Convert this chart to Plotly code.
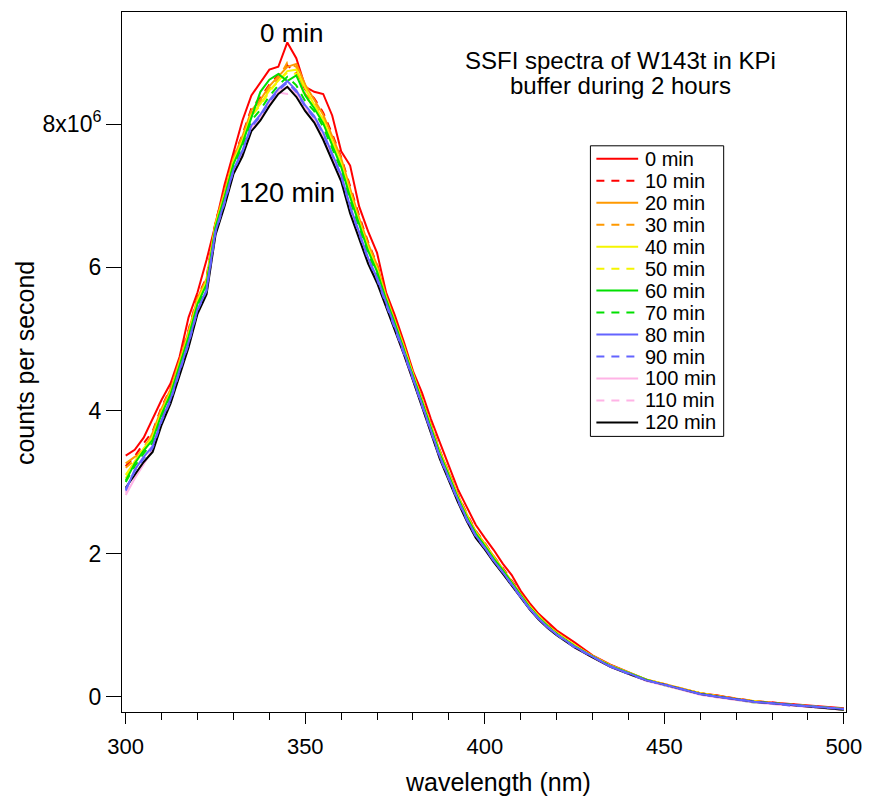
import plotly.graph_objects as go

# wavelength grid (nm)
wavelength = [300, 302.5, 305, 307.5, 310, 312.5, 315, 317.5, 320, 322.5, 325, 327.5, 330,
              332.5, 335, 337.5, 340, 342.5, 345, 347.5, 350, 352.5, 355, 357.5, 360, 362.5,
              365, 367.5, 370, 372.5, 375, 377.5, 380, 382.5, 385, 387.5, 390, 392.5, 395,
              397.5, 400, 402.5, 405, 407.5, 410, 412.5, 415, 417.5, 420,
              425, 430, 435, 440, 445, 450, 455, 460, 465, 470, 475, 480, 485, 490, 495, 500]

# counts per second, in units of 1e6
s000 = [3.37, 3.45, 3.62, 3.88, 4.15, 4.38, 4.75, 5.30, 5.65, 6.10, 6.60, 7.15, 7.62,
        8.05, 8.40, 8.58, 8.76, 8.80, 9.14, 8.92, 8.52, 8.45, 8.42, 8.12, 7.62, 7.42,
        6.85, 6.50, 6.20, 5.65, 5.32, 4.95, 4.55, 4.25, 3.88, 3.55, 3.22, 2.90, 2.65,
        2.40, 2.22, 2.05, 1.86, 1.70, 1.48, 1.31, 1.16, 1.04, 0.93,
        0.76, 0.58, 0.45, 0.34, 0.24, 0.17, 0.11, 0.05, 0.02, -0.03, -0.06, -0.08, -0.10, -0.13, -0.15, -0.16]
s010 = [3.22, 3.36, 3.54, 3.71, 4.05, 4.31, 4.71, 5.13, 5.59, 5.86, 6.64, 7.06, 7.54,
        7.85, 8.22, 8.37, 8.55, 8.68, 8.82, 8.72, 8.48, 8.36, 8.16, 7.86, 7.54, 7.13,
        6.72, 6.35, 6.04, 5.62, 5.27, 4.91, 4.53, 4.17, 3.80, 3.44, 3.13, 2.83, 2.56,
        2.32, 2.15, 1.96, 1.80, 1.62, 1.44, 1.27, 1.13, 1.01, 0.90,
        0.72, 0.57, 0.44, 0.33, 0.24, 0.17, 0.11, 0.05, 0.01, -0.03, -0.06, -0.08, -0.11, -0.13, -0.15, -0.17]
s020 = [3.26, 3.35, 3.42, 3.69, 4.03, 4.30, 4.70, 5.11, 5.57, 5.84, 6.63, 7.05, 7.52,
        7.83, 8.19, 8.34, 8.53, 8.67, 8.80, 8.84, 8.55, 8.34, 8.13, 7.83, 7.52, 7.10,
        6.69, 6.33, 6.03, 5.60, 5.26, 4.90, 4.52, 4.16, 3.79, 3.43, 3.13, 2.82, 2.55,
        2.31, 2.14, 1.96, 1.79, 1.61, 1.44, 1.27, 1.13, 1.00, 0.90,
        0.72, 0.57, 0.44, 0.34, 0.24, 0.18, 0.11, 0.05, 0.01, -0.03, -0.06, -0.09, -0.11, -0.13, -0.15, -0.17]
s030 = [3.20, 3.31, 3.49, 3.65, 4.00, 4.27, 4.67, 5.08, 5.54, 5.81, 6.60, 7.02, 7.49,
        7.79, 8.15, 8.30, 8.49, 8.63, 8.86, 8.80, 8.42, 8.29, 8.08, 7.78, 7.47, 7.05,
        6.65, 6.29, 5.99, 5.58, 5.24, 4.88, 4.50, 4.15, 3.78, 3.42, 3.11, 2.80, 2.53,
        2.30, 2.13, 1.95, 1.78, 1.60, 1.43, 1.26, 1.12, 1.00, 0.89,
        0.71, 0.57, 0.44, 0.33, 0.24, 0.18, 0.11, 0.05, 0.01, -0.03, -0.07, -0.09, -0.11, -0.13, -0.15, -0.17]
s040 = [3.10, 3.29, 3.47, 3.63, 3.98, 4.25, 4.65, 5.06, 5.53, 5.80, 6.59, 7.00, 7.48,
        7.77, 8.13, 8.28, 8.47, 8.61, 8.74, 8.76, 8.50, 8.27, 8.06, 7.76, 7.45, 7.03,
        6.63, 6.27, 5.97, 5.57, 5.23, 4.87, 4.50, 4.14, 3.77, 3.41, 3.10, 2.80, 2.53,
        2.29, 2.13, 1.94, 1.78, 1.60, 1.42, 1.26, 1.12, 0.99, 0.89,
        0.72, 0.56, 0.44, 0.34, 0.24, 0.17, 0.11, 0.05, 0.01, -0.04, -0.06, -0.09, -0.11, -0.13, -0.15, -0.18]
s050 = [3.05, 3.28, 3.46, 3.61, 3.97, 4.24, 4.64, 5.05, 5.51, 5.78, 6.58, 6.99, 7.46,
        7.75, 8.11, 8.26, 8.45, 8.60, 8.72, 8.70, 8.38, 8.25, 8.03, 7.73, 7.43, 7.00,
        6.61, 6.25, 5.96, 5.56, 5.22, 4.87, 4.49, 4.13, 3.76, 3.40, 3.10, 2.79, 2.52,
        2.29, 2.12, 1.94, 1.77, 1.60, 1.42, 1.26, 1.12, 0.99, 0.89,
        0.71, 0.57, 0.43, 0.33, 0.24, 0.18, 0.10, 0.05, 0.00, -0.03, -0.07, -0.09, -0.11, -0.13, -0.15, -0.17]
s060 = [3.02, 3.26, 3.44, 3.59, 3.95, 4.23, 4.63, 5.03, 5.49, 5.76, 6.56, 6.98, 7.44,
        7.73, 8.09, 8.45, 8.62, 8.70, 8.60, 8.68, 8.40, 8.22, 8.01, 7.71, 7.40, 6.98,
        6.59, 6.23, 5.94, 5.55, 5.21, 4.86, 4.48, 4.12, 3.75, 3.39, 3.09, 2.78, 2.51,
        2.28, 2.11, 1.93, 1.77, 1.59, 1.42, 1.25, 1.11, 0.99, 0.88,
        0.71, 0.56, 0.43, 0.33, 0.24, 0.16, 0.10, 0.04, 0.00, -0.04, -0.08, -0.09, -0.11, -0.13, -0.15, -0.17]
s070 = [3.00, 3.22, 3.40, 3.55, 3.92, 4.20, 4.60, 5.00, 5.46, 5.73, 6.54, 6.95, 7.41,
        7.69, 8.05, 8.20, 8.39, 8.54, 8.66, 8.54, 8.32, 8.18, 7.96, 7.66, 7.36, 6.93,
        6.55, 6.19, 5.90, 5.53, 5.19, 4.84, 4.47, 4.11, 3.74, 3.38, 3.07, 2.77, 2.50,
        2.27, 2.10, 1.92, 1.76, 1.58, 1.41, 1.24, 1.10, 0.98, 0.88,
        0.70, 0.56, 0.43, 0.32, 0.23, 0.17, 0.10, 0.04, 0.00, -0.04, -0.07, -0.09, -0.11, -0.14, -0.15, -0.18]
s080 = [2.88, 3.17, 3.35, 3.50, 3.87, 4.16, 4.56, 4.95, 5.41, 5.68, 6.50, 6.91, 7.36,
        7.63, 7.98, 8.13, 8.33, 8.49, 8.60, 8.47, 8.26, 8.11, 7.88, 7.58, 7.29, 6.85,
        6.48, 6.13, 5.85, 5.49, 5.16, 4.81, 4.45, 4.08, 3.71, 3.35, 3.05, 2.75, 2.48,
        2.25, 2.08, 1.90, 1.74, 1.57, 1.40, 1.23, 1.09, 0.97, 0.87,
        0.70, 0.56, 0.42, 0.33, 0.23, 0.17, 0.10, 0.04, 0.00, -0.04, -0.07, -0.09, -0.11, -0.13, -0.15, -0.17]
s090 = [2.90, 3.15, 3.33, 3.48, 3.85, 4.14, 4.54, 4.93, 5.40, 5.67, 6.49, 6.89, 7.35,
        7.61, 7.96, 8.11, 8.31, 8.47, 8.58, 8.45, 8.24, 8.09, 7.86, 7.56, 7.27, 6.83,
        6.46, 6.11, 5.83, 5.48, 5.15, 4.81, 4.44, 4.07, 3.70, 3.34, 3.04, 2.74, 2.47,
        2.24, 2.08, 1.90, 1.74, 1.56, 1.39, 1.23, 1.09, 0.97, 0.87,
        0.69, 0.56, 0.43, 0.32, 0.23, 0.17, 0.10, 0.04, 0.00, -0.04, -0.07, -0.09, -0.12, -0.13, -0.15, -0.17]
s100 = [2.82, 3.05, 3.25, 3.46, 3.83, 4.13, 4.53, 4.91, 5.38, 5.65, 6.48, 6.88, 7.33,
        7.59, 7.94, 8.09, 8.29, 8.46, 8.52, 8.43, 8.22, 8.07, 7.83, 7.53, 7.25, 6.80,
        6.44, 6.09, 5.82, 5.47, 5.14, 4.80, 4.43, 4.07, 3.70, 3.34, 3.04, 2.74, 2.47,
        2.23, 2.07, 1.89, 1.73, 1.56, 1.39, 1.23, 1.09, 0.97, 0.87,
        0.69, 0.55, 0.42, 0.32, 0.22, 0.16, 0.09, 0.03, -0.01, -0.05, -0.08, -0.10, -0.12, -0.14, -0.16, -0.18]
s110 = [2.85, 3.08, 3.28, 3.45, 3.82, 4.12, 4.52, 4.90, 5.37, 5.64, 6.47, 6.87, 7.32,
        7.58, 7.93, 8.08, 8.28, 8.44, 8.42, 8.45, 8.21, 8.06, 7.82, 7.52, 7.24, 6.79,
        6.43, 6.08, 5.81, 5.47, 5.14, 4.80, 4.43, 4.06, 3.69, 3.33, 3.03, 2.73, 2.46,
        2.23, 2.07, 1.89, 1.73, 1.56, 1.39, 1.23, 1.09, 0.97, 0.87,
        0.69, 0.55, 0.42, 0.32, 0.23, 0.16, 0.09, 0.03, -0.01, -0.04, -0.08, -0.10, -0.12, -0.14, -0.16, -0.18]
s120 = [2.92, 3.10, 3.28, 3.42, 3.80, 4.10, 4.50, 4.88, 5.35, 5.62, 6.45, 6.85, 7.30,
        7.55, 7.90, 8.05, 8.25, 8.42, 8.52, 8.38, 8.18, 8.02, 7.78, 7.48, 7.20, 6.75,
        6.40, 6.05, 5.78, 5.45, 5.12, 4.78, 4.42, 4.05, 3.68, 3.32, 3.02, 2.72, 2.45,
        2.22, 2.06, 1.88, 1.72, 1.55, 1.38, 1.22, 1.08, 0.96, 0.86,
        0.69, 0.55, 0.42, 0.32, 0.23, 0.17, 0.10, 0.04, 0.00, -0.04, -0.07, -0.09, -0.11, -0.13, -0.15, -0.18]

series_names = ["0 min", "10 min", "20 min", "30 min", "40 min", "50 min", "60 min",
                "70 min", "80 min", "90 min", "100 min", "110 min", "120 min"]
series_values = [s000, s010, s020, s030, s040, s050, s060, s070, s080, s090, s100, s110, s120]
series_colors = ["#FF0000", "#FF0000", "#FF9900", "#FF9900", "#F5F500", "#F5F500", "#00E000",
                 "#00E000", "#6464FF", "#6464FF", "#FFB3E6", "#FFB3E6", "#000000"]
series_dash = ["solid", "8px,7px", "solid", "8px,7px", "solid", "8px,7px", "solid",
               "8px,7px", "solid", "8px,7px", "solid", "8px,7px", "solid"]
draw_order = [0, 1, 2, 3, 4, 5, 6, 7, 10, 11, 12, 8, 9]

y_tickvals = [0, 2, 4, 6, 8]
y_ticktext = ["0", "2", "4", "6", "8x10<sup>6</sup>"]
x_tickvals = [300, 350, 400, 450, 500]

FONT = "Arial, Liberation Sans, sans-serif"

# plot-area geometry in pixels (for placing the hand-drawn legend box)
W, H = 873, 799
ML, MR, MT, MB = 122, 23, 11, 87
PW, PH = W - ML - MR, H - MT - MB


def px(xp):
    return (xp - ML) / PW


def py(yp):
    return (H - MB - yp) / PH


fig = go.Figure()
for i in draw_order:
    fig.add_trace(go.Scatter(
        x=wavelength, y=series_values[i], name=series_names[i], mode="lines",
        line=dict(color=series_colors[i], width=2, dash=series_dash[i]),
        showlegend=False,
    ))

# legend (box, line samples and labels)
shapes = [dict(type="rect", xref="paper", yref="paper", x0=px(593), x1=px(727),
               y0=py(145), y1=py(436), line=dict(color="black", width=1),
               fillcolor="white", layer="above")]
annotations = []
for i, name in enumerate(series_names):
    yrow = 158 + 22 * i
    shapes.append(dict(type="line", xref="paper", yref="paper", x0=px(599), x1=px(641),
                       y0=py(yrow), y1=py(yrow), layer="above",
                       line=dict(color=series_colors[i], width=2, dash=series_dash[i])))
    annotations.append(dict(text=name, xref="paper", yref="paper", x=px(646), y=py(yrow),
                            xanchor="left", yanchor="middle", showarrow=False,
                            font=dict(size=20)))

annotations += [
    dict(text="wavelength (nm)", xref="paper", yref="paper", x=px(500), y=py(782),
         xanchor="center", yanchor="middle", showarrow=False, font=dict(size=25)),
    dict(text="counts per second", xref="paper", yref="paper", x=px(25), y=py(363),
         xanchor="center", yanchor="middle", showarrow=False, textangle=-90,
         font=dict(size=25)),
    dict(text="SSFI spectra of W143t in KPi", xref="paper", yref="paper", x=px(623),
         y=py(60), xanchor="center", yanchor="middle", showarrow=False, font=dict(size=24)),
    dict(text="buffer during 2 hours", xref="paper", yref="paper", x=px(623),
         y=py(85), xanchor="center", yanchor="middle", showarrow=False, font=dict(size=24)),
    dict(text="0 min", x=346.3, y=9.27, xref="x", yref="y", showarrow=False,
         xanchor="center", yanchor="middle", font=dict(size=26)),
    dict(text="120 min", x=345, y=7.04, xref="x", yref="y", showarrow=False,
         xanchor="center", yanchor="middle", font=dict(size=27)),
]

fig.update_layout(
    width=W, height=H,
    margin=dict(l=ML, r=MR, t=MT, b=MB),
    paper_bgcolor="white", plot_bgcolor="white",
    font=dict(family=FONT, size=20, color="black"),
    showlegend=False,
    xaxis=dict(range=[298.96, 500.6], showgrid=False, zeroline=False,
               showline=True, linecolor="black", linewidth=1, mirror=True,
               ticks="outside", ticklen=11, tickwidth=1, tickcolor="black",
               tickvals=x_tickvals, tickfont=dict(size=22), ticklabelstandoff=4,
               minor=dict(ticks="outside", ticklen=7, dtick=10, tickcolor="black", showgrid=False)),
    yaxis=dict(range=[-0.212, 9.565], showgrid=False, zeroline=False,
               showline=True, linecolor="black", linewidth=1, mirror=True,
               ticks="outside", ticklen=15, tickwidth=1, tickcolor="black",
               tickvals=y_tickvals, ticktext=y_ticktext, tickfont=dict(size=23)),
    shapes=shapes,
    annotations=annotations,
)

fig.write_html("out.html")
